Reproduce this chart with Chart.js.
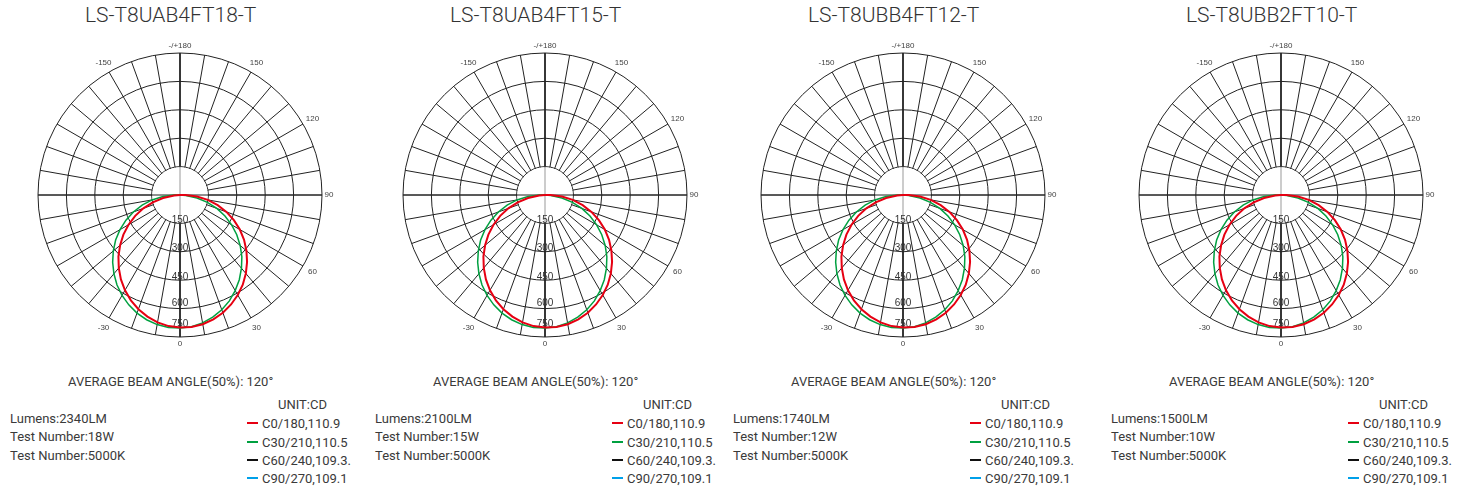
<!DOCTYPE html>
<html>
<head>
<meta charset="utf-8">
<script src="https://cdn.jsdelivr.net/npm/chart.js@4.4.1/dist/chart.umd.min.js"></script>
<style>
body { margin: 0; width: 1464px; height: 492px; background: #fff; position: relative; overflow: hidden; font-family: Roboto, sans-serif; color: #333; }
.t { position: absolute; white-space: nowrap; line-height: 1; }
.title { font-size: 21px; font-weight: 300; color: #333; }
.txt { font-size: 13px; color: #3a3a3a; }
.leg { position: absolute; width: 11px; height: 2px; }
canvas { position: absolute; }
</style>
</head>
<body>
<script>
// one entry per lamp
const models = ['LS-T8UAB4FT18-T', 'LS-T8UAB4FT15-T', 'LS-T8UBB4FT12-T', 'LS-T8UBB2FT10-T'];
const lumens = ['2340LM', '2100LM', '1740LM', '1500LM'];
const watts = ['18W', '15W', '12W', '10W'];
const cct = ['5000K', '5000K', '5000K', '5000K'];
const beamAngle = '120°';

// legend of the C planes
const planeNames = ['C0/180,110.9', 'C30/210,110.5', 'C60/240,109.3.', 'C90/270,109.1'];
const planeColors = ['#e60012', '#00a040', '#111111', '#00a0e9'];

// polar grid: ring values and the angle labels
const ringTicks = [150, 300, 450, 600, 750];
const angleLabels = [180, 150, 120, 90, 60, 30, 0, -30, -150];

// angle of every point around the diagram, clockwise from the top
const ringAngles = [180, 175, 170, 165, 160, 155, 150, 145, 140, 135, 130, 125, 120, 115, 110, 105, 100, 95,
  90, 85, 80, 75, 70, 65, 60, 55, 50, 45, 40, 35, 30, 25, 20, 15, 10, 5,
  0, -5, -10, -15, -20, -25, -30, -35, -40, -45, -50, -55, -60, -65, -70, -75, -80, -85,
  -90, -95, -100, -105, -110, -115, -120, -125, -130, -135, -140, -145, -150, -155, -160, -165, -170, -175];

// measured intensity (cd) on the lower half, gamma -90..90
const gammaAngles = [-90, -85, -80, -75, -70, -65, -60, -55, -50, -45, -40, -35, -30, -25, -20, -15, -10, -5,
  0, 5, 10, 15, 20, 25, 30, 35, 40, 45, 50, 55, 60, 65, 70, 75, 80, 85, 90];
const redCd = [0, 31, 91, 149, 206, 261, 314, 365, 413, 460, 503, 544, 581, 614, 642, 665, 683, 695,
  700, 700, 693, 680, 662, 638, 610, 578, 541, 501, 458, 413, 365, 314, 261, 206, 149, 90, 29];
const greenCd = [29, 90, 150, 207, 262, 315, 366, 415, 460, 503, 543, 580, 612, 640, 664, 682, 695, 702,
  703, 698, 686, 668, 645, 617, 583, 546, 505, 462, 415, 366, 315, 262, 207, 150, 91, 31, 0];

const panelX = [0, 365, 723, 1101];
const gridColor = '#222';
const tickLift = [3.5, 3.5, 2.5, 5.5, 12.5];

function onRing(values) {
    return ringAngles.map(function (g) {
        const k = gammaAngles.indexOf(g);
        return k < 0 ? 0 : values[k];
    });
}

const polarDecor = {
    id: 'polarDecor',
    beforeDatasetsDraw(chart) {
        const s = chart.scales.r;
        const ctx = chart.ctx;
        const cx = s.xCenter, cy = s.yCenter, R = s.drawingArea;
        const r0 = s.getDistanceFromCenterForValue(ringTicks[0]);
        ctx.save();
        // spokes start at the first ring
        ctx.fillStyle = '#fff';
        ctx.beginPath();
        ctx.arc(cx, cy, r0 - 0.6, 0, Math.PI * 2);
        ctx.fill();
        ctx.strokeStyle = '#999';
        ctx.lineWidth = 1;
        ctx.beginPath();
        ctx.moveTo(cx, cy - r0);
        ctx.lineTo(cx, cy + r0);
        ctx.stroke();
        ctx.strokeStyle = gridColor;
        ctx.beginPath();
        ctx.moveTo(cx - R, cy);
        ctx.lineTo(cx + R, cy);
        ctx.stroke();
        ctx.lineWidth = 1.6;
        ctx.beginPath();
        ctx.moveTo(cx, cy - R);
        ctx.lineTo(cx, cy - r0);
        ctx.moveTo(cx, cy + r0);
        ctx.lineTo(cx, cy + R);
        ctx.stroke();

        ctx.fillStyle = '#333';
        ctx.textAlign = 'center';
        ctx.textBaseline = 'middle';
        ctx.font = '10px "Liberation Sans", Arial, sans-serif';
        ringTicks.forEach(function (v, k) {
            ctx.fillText(String(v), cx, cy + s.getDistanceFromCenterForValue(v) - tickLift[k]);
        });

        ctx.fillStyle = '#444';
        ctx.font = '8px "Liberation Sans", Arial, sans-serif';
        angleLabels.forEach(function (g) {
            const i = ringAngles.indexOf(g);
            const p = s.getPointPosition(i, R + (g % 90 === 0 ? 7 : 11));
            ctx.fillText(g === 180 ? '-/+180' : String(g), p.x, p.y);
        });
        ctx.restore();
    }
};

function addText(cls, text, left, top) {
    const d = document.createElement('div');
    d.className = 't ' + cls;
    d.textContent = text;
    d.style.left = left + 'px';
    d.style.top = top + 'px';
    document.body.appendChild(d);
}

function drawPanel(n) {
    const ox = panelX[n];
    const cv = document.createElement('canvas');
    cv.width = 326;
    cv.height = 326;
    cv.style.left = (180 + ox - 163) + 'px';
    cv.style.top = (195 - 163) + 'px';
    document.body.appendChild(cv);

    new Chart(cv, {
        type: 'radar',
        data: {
            labels: ringAngles.map(String),
            datasets: [{
                label: planeNames[0],
                data: onRing(redCd),
                borderColor: planeColors[0],
                borderWidth: 2,
                pointRadius: 0,
                fill: false,
                tension: 0
            }, {
                label: planeNames[1],
                data: onRing(greenCd),
                borderColor: planeColors[1],
                borderWidth: 1.5,
                pointRadius: 0,
                fill: false,
                tension: 0
            }]
        },
        options: {
            responsive: false,
            animation: false,
            events: [],
            layout: { padding: 21 },
            plugins: { legend: { display: false }, tooltip: { enabled: false } },
            scales: {
                r: {
                    min: 0,
                    max: 750,
                    ticks: { display: false, stepSize: 150 },
                    pointLabels: { display: false },
                    grid: { circular: true, color: gridColor, lineWidth: 1 },
                    angleLines: {
                        color: gridColor,
                        lineWidth: function (c) { return c.index % 2 ? 0 : 1; }
                    }
                }
            }
        },
        plugins: [polarDecor]
    });

    addText('title', models[n], 85 + ox, 4.8);
    addText('txt', 'AVERAGE BEAM ANGLE(50%): ' + beamAngle, 68 + ox, 375.4);
    addText('txt', 'Lumens:' + lumens[n], 10 + ox, 412);
    addText('txt', 'Test Number:' + watts[n], 10 + ox, 430.4);
    addText('txt', 'Test Number:' + cct[n], 10 + ox, 448.7);
    addText('txt', 'UNIT:CD', 278 + ox, 397.7);
    const rows = [423, 442, 460, 478];
    planeNames.forEach(function (name, k) {
        addText('txt', name, 262 + ox, rows[k] - 6);
        const l = document.createElement('div');
        l.className = 'leg';
        l.style.background = planeColors[k];
        l.style.left = (247 + ox) + 'px';
        l.style.top = (rows[k] - 1) + 'px';
        document.body.appendChild(l);
    });
}

for (let n = 0; n < models.length; n++) {
    drawPanel(n);
}
</script>
</body>
</html>
